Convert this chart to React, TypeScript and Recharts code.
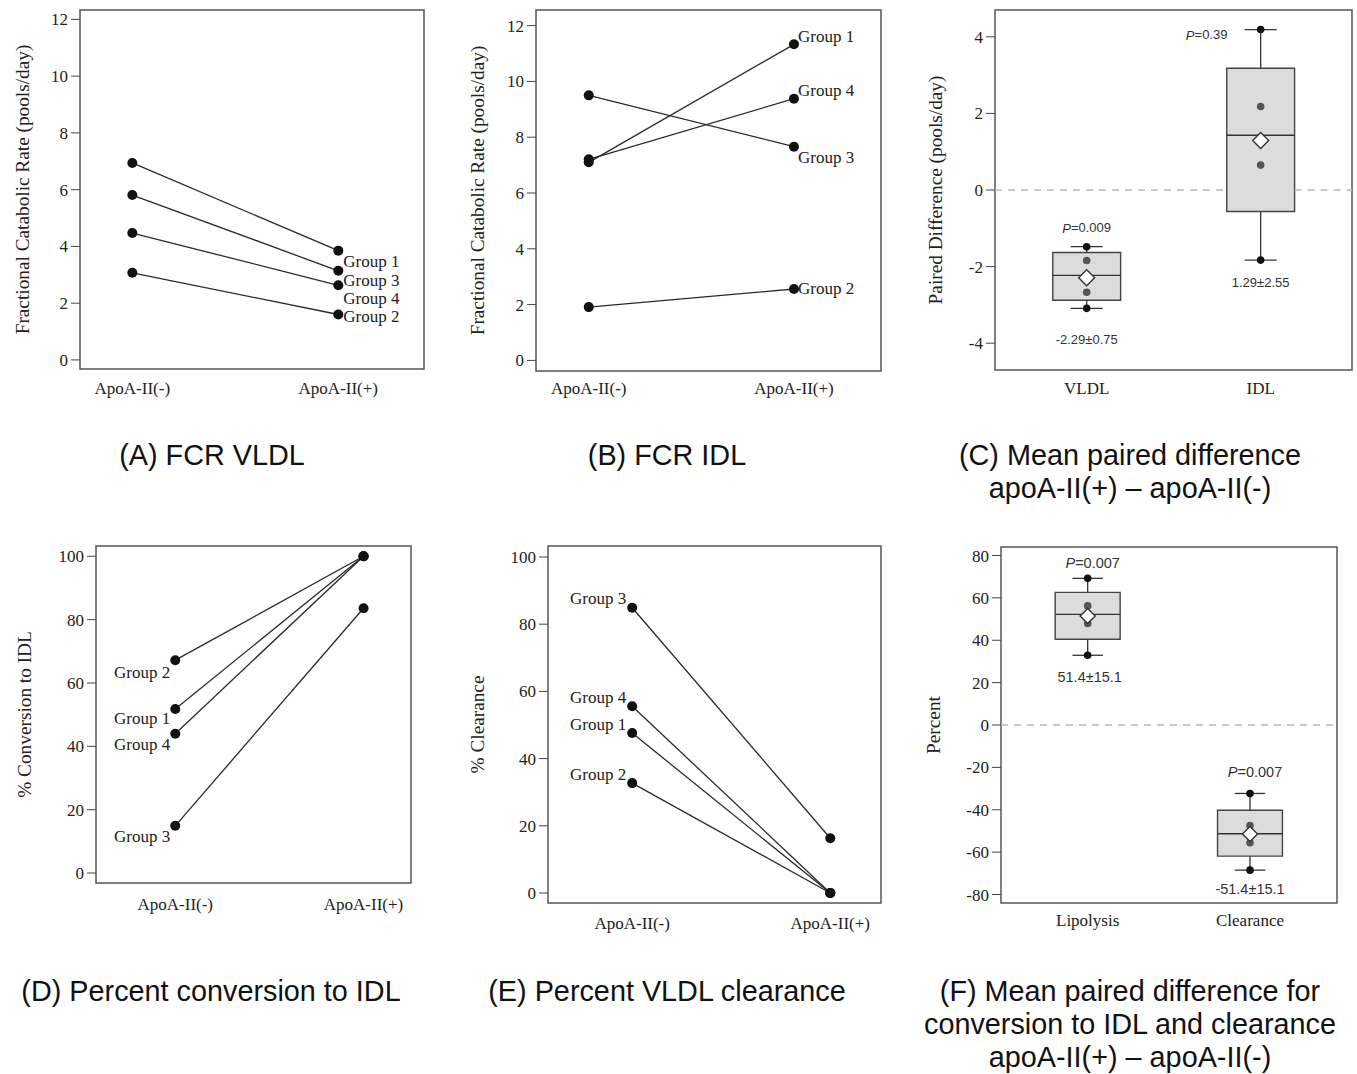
import React from 'react';
import { LineChart, Line, ComposedChart, Scatter, XAxis, YAxis, ReferenceArea, ReferenceLine } from 'recharts';

const SERIF = '"Liberation Serif", "Times New Roman", serif';
const SANS = '"Liberation Sans", Arial, sans-serif';
const INK = '#222';

const conditions = ['ApoA-II(-)', 'ApoA-II(+)'];
const groupNames = ['Group 1', 'Group 2', 'Group 3', 'Group 4'];

// FCR (pools/day), per group: apoA-II(-) then apoA-II(+)
const fcrVldlMinus = [6.94, 3.07, 5.81, 4.47];
const fcrVldlPlus = [3.85, 1.6, 3.14, 2.63];
const fcrIdlMinus = [7.1, 1.91, 9.5, 7.21];
const fcrIdlPlus = [11.33, 2.56, 7.66, 9.38];

// percent conversion / clearance
const conversionMinus = [51.8, 67.2, 14.9, 44.0];
const conversionPlus = [100, 100, 83.6, 100];
const clearanceMinus = [47.6, 32.7, 84.9, 55.6];
const clearancePlus = [0, 0, 16.3, 0];

const fcrTicks = [0, 2, 4, 6, 8, 10, 12];
const pctTicks = [0, 20, 40, 60, 80, 100];
const fcrDiffTicks = [-4, -2, 0, 2, 4];
const pctDiffTicks = [-80, -60, -40, -20, 0, 20, 40, 60, 80];

// paired differences (box plots)
const fcrDiffCategories = ['VLDL', 'IDL'];
const fcrDiffPoints = [[-1.48, -1.84, -2.67, -3.09], [4.19, 2.18, 0.65, -1.83]];
const fcrDiffQ1 = [-2.88, -0.56];
const fcrDiffMedian = [-2.23, 1.43];
const fcrDiffQ3 = [-1.63, 3.18];
const fcrDiffMean = [-2.29, 1.29];
const fcrDiffP = ['0.009', '0.39'];
const fcrDiffSummary = ['-2.29±0.75', '1.29±2.55'];

const pctDiffCategories = ['Lipolysis', 'Clearance'];
const pctDiffPoints = [[69.2, 56.2, 47.9, 32.9], [-32.3, -47.4, -55.6, -68.5]];
const pctDiffQ1 = [40.5, -61.9];
const pctDiffMedian = [52.2, -51.3];
const pctDiffQ3 = [62.6, -40.2];
const pctDiffMean = [51.4, -51.4];
const pctDiffP = ['0.007', '0.007'];
const pctDiffSummary = ['51.4±15.1', '-51.4±15.1'];

const AXIS_W = 80;
const AXIS_H = 50;
const PAD_L = 24;
const PAD_T = 10;
const PAD_R = 4;

type Frame = { left: number; top: number; right: number; bottom: number };

const chartBox = (f: Frame) => ({
  left: f.left - AXIS_W - PAD_L,
  top: f.top - PAD_T,
  width: f.right - f.left + AXIS_W + PAD_L + PAD_R,
  height: f.bottom - f.top + PAD_T + AXIS_H,
});

const chartMargin = { top: PAD_T, right: PAD_R, bottom: 0, left: PAD_L };

const yAxisProps = (yDomain: number[], yTicks: number[], title: string, titleOffset: number) => ({
  type: 'number' as const,
  domain: yDomain,
  ticks: yTicks,
  interval: 0 as const,
  allowDataOverflow: true,
  width: AXIS_W,
  axisLine: false,
  tickSize: 9,
  tickMargin: 3,
  tickLine: { stroke: '#444' },
  tick: { fill: INK, fontSize: 17, fontFamily: SERIF },
  label: {
    value: title,
    angle: -90,
    position: 'insideLeft' as const,
    offset: titleOffset,
    style: { textAnchor: 'middle', fill: INK, fontSize: 19.3, fontFamily: SERIF },
  },
});

const xAxisProps = (xDomain: number[], names: string[], margin: number) => ({
  type: 'number' as const,
  dataKey: 'x',
  domain: xDomain,
  ticks: [1, 2],
  interval: 0 as const,
  allowDataOverflow: true,
  height: AXIS_H,
  axisLine: false,
  tickLine: false,
  tickSize: 0,
  tickMargin: margin,
  tickFormatter: (v: number) => names[v - 1],
  tick: { fill: INK, fontSize: 17, fontFamily: SERIF },
});

type LabelLayout = { index: number; anchor: 'start' | 'end'; dx: number; dy: number[] };

const PairedPanel: React.FC<{
  frame: Frame;
  xDomain: number[];
  yDomain: number[];
  yTicks: number[];
  minus: number[];
  plus: number[];
  yTitle: string;
  titleX: number;
  xTickMargin: number;
  layout: LabelLayout;
}> = ({ frame, xDomain, yDomain, yTicks, minus, plus, yTitle, titleX, xTickMargin, layout }) => {
  const box = chartBox(frame);
  const rows = [minus, plus].map((vals, i) => {
    const row: Record<string, number> = { x: i + 1 };
    groupNames.forEach((g, k) => (row[g] = vals[k]));
    return row;
  });

  const dot = (k: number) => (p: any) => (
    <g key={`dot-${k}-${p.index}`}>
      <circle cx={p.cx} cy={p.cy} r={5} fill="#111" />
      {p.index === layout.index && (
        <text
          x={p.cx + layout.dx}
          y={p.cy + layout.dy[k]}
          textAnchor={layout.anchor}
          dominantBaseline="central"
          fontFamily={SERIF}
          fontSize={17}
          fill={INK}
        >
          {groupNames[k]}
        </text>
      )}
    </g>
  );

  return (
    <div style={{ position: 'absolute', left: box.left, top: box.top }}>
      <LineChart width={box.width} height={box.height} data={rows} margin={chartMargin}>
        <XAxis {...xAxisProps(xDomain, conditions, xTickMargin)} />
        <YAxis {...yAxisProps(yDomain, yTicks, yTitle, titleX - box.left - PAD_L)} />
        <ReferenceArea
          x1={xDomain[0]}
          x2={xDomain[1]}
          y1={yDomain[0]}
          y2={yDomain[1]}
          fill="none"
          stroke="#555"
          strokeWidth={1.5}
          ifOverflow="visible"
        />
        {groupNames.map((g, k) => (
          <Line
            key={g}
            dataKey={g}
            stroke="#2a2a2a"
            strokeWidth={1.3}
            dot={dot(k)}
            activeDot={false}
            isAnimationActive={false}
          />
        ))}
      </LineChart>
    </div>
  );
};

type NoteOffset = { dx: number; dy: number };

const BoxPanel: React.FC<{
  frame: Frame;
  xDomain: number[];
  yDomain: number[];
  yTicks: number[];
  categories: string[];
  points: number[][];
  q1: number[];
  median: number[];
  q3: number[];
  mean: number[];
  pValues: string[];
  summaries: string[];
  yTitle: string;
  titleX: number;
  xTickMargin: number;
  boxHalf: number;
  capHalf: number;
  diamond: number;
  noteSize: number;
  topNotes: NoteOffset[];
  bottomNotes: NoteOffset[];
}> = (props) => {
  const { frame, xDomain, yDomain, yTicks, categories, points, q1, median, q3, mean } = props;
  const box = chartBox(frame);

  const inner: { x: number; y: number }[] = [];
  const ends: { x: number; y: number; cat: number; end: 'top' | 'bottom' }[] = [];
  points.forEach((pts, i) => {
    const hi = Math.max(...pts);
    const lo = Math.min(...pts);
    pts.forEach((v) => {
      if (v === hi) ends.push({ x: i + 1, y: v, cat: i, end: 'top' });
      else if (v === lo) ends.push({ x: i + 1, y: v, cat: i, end: 'bottom' });
      else inner.push({ x: i + 1, y: v });
    });
  });
  const means = mean.map((m, i) => ({ x: i + 1, y: m }));

  // the dashed zero line stops where a box covers it
  const zeroPieces: number[][] = [];
  let from = xDomain[0];
  categories.forEach((_, i) => {
    if (q1[i] < 0 && q3[i] > 0) {
      zeroPieces.push([from, i + 1 - props.boxHalf]);
      from = i + 1 + props.boxHalf;
    }
  });
  zeroPieces.push([from, xDomain[1]]);

  const noteStyle = { fontFamily: SANS, fontSize: props.noteSize, fill: '#333' };

  const endShape = (p: any) => {
    const d = p.payload;
    const off = d.end === 'top' ? props.topNotes[d.cat] : props.bottomNotes[d.cat];
    return (
      <g>
        <circle cx={p.cx} cy={p.cy} r={3.8} fill="#111" />
        <text x={p.cx + off.dx} y={p.cy + off.dy} textAnchor="middle" dominantBaseline="central" {...noteStyle}>
          {d.end === 'top' ? (
            <>
              <tspan fontStyle="italic">P</tspan>={props.pValues[d.cat]}
            </>
          ) : (
            props.summaries[d.cat]
          )}
        </text>
      </g>
    );
  };

  const s = props.diamond;
  const diamondShape = (p: any) => (
    <polygon
      points={`${p.cx},${p.cy - s} ${p.cx + s},${p.cy} ${p.cx},${p.cy + s} ${p.cx - s},${p.cy}`}
      fill="#fff"
      stroke="#333"
      strokeWidth={1.4}
    />
  );

  const grayDot = (p: any) => <circle cx={p.cx} cy={p.cy} r={3.8} fill="#555" />;

  return (
    <div style={{ position: 'absolute', left: box.left, top: box.top }}>
      <ComposedChart width={box.width} height={box.height} margin={chartMargin}>
        <XAxis {...xAxisProps(xDomain, categories, props.xTickMargin)} />
        <YAxis dataKey="y" {...yAxisProps(yDomain, yTicks, props.yTitle, props.titleX - box.left - PAD_L)} />
        {zeroPieces.map(([a, b], j) => (
          <ReferenceLine
            key={`zero-${j}`}
            segment={[{ x: a, y: 0 }, { x: b, y: 0 }]}
            stroke="#b8b8b8"
            strokeWidth={1.5}
            strokeDasharray="7 6"
          />
        ))}
        {categories.map((c, i) => {
          const x = i + 1;
          const hi = Math.max(...points[i]);
          const lo = Math.min(...points[i]);
          return (
            <React.Fragment key={c}>
              <ReferenceLine segment={[{ x, y: q3[i] }, { x, y: hi }]} stroke="#333" strokeWidth={1.3} />
              <ReferenceLine segment={[{ x, y: lo }, { x, y: q1[i] }]} stroke="#333" strokeWidth={1.3} />
              <ReferenceLine segment={[{ x: x - props.capHalf, y: hi }, { x: x + props.capHalf, y: hi }]} stroke="#333" strokeWidth={1.3} />
              <ReferenceLine segment={[{ x: x - props.capHalf, y: lo }, { x: x + props.capHalf, y: lo }]} stroke="#333" strokeWidth={1.3} />
              <ReferenceArea
                x1={x - props.boxHalf}
                x2={x + props.boxHalf}
                y1={q1[i]}
                y2={q3[i]}
                fill="#dcdcdc"
                fillOpacity={1}
                stroke="#444"
                strokeWidth={1.4}
              />
              <ReferenceLine
                segment={[{ x: x - props.boxHalf, y: median[i] }, { x: x + props.boxHalf, y: median[i] }]}
                stroke="#333"
                strokeWidth={1.4}
              />
            </React.Fragment>
          );
        })}
        <Scatter data={inner} shape={grayDot} isAnimationActive={false} />
        <Scatter data={means} shape={diamondShape} isAnimationActive={false} />
        <Scatter data={ends} shape={endShape} isAnimationActive={false} />
        <ReferenceArea
          x1={xDomain[0]}
          x2={xDomain[1]}
          y1={yDomain[0]}
          y2={yDomain[1]}
          fill="none"
          stroke="#555"
          strokeWidth={1.5}
          ifOverflow="visible"
        />
      </ComposedChart>
    </div>
  );
};

const Caption: React.FC<{ cx: number; top: number; lines: string[] }> = ({ cx, top, lines }) => (
  <div
    style={{
      position: 'absolute',
      left: cx - 300,
      width: 600,
      top,
      textAlign: 'center',
      fontFamily: SANS,
      fontSize: 28.8,
      lineHeight: '33px',
      color: '#111',
    }}
  >
    {lines.map((l) => (
      <div key={l}>{l}</div>
    ))}
  </div>
);

const App: React.FC = () => {
  return (
    <div style={{ position: 'absolute', left: 0, top: 0, width: 1357, height: 1074, overflow: 'hidden', background: '#fff' }}>
      {/* (A) FCR VLDL */}
      <PairedPanel
        frame={{ left: 80, top: 10, right: 424, bottom: 369 }}
        xDomain={[0.746, 2.416]}
        yDomain={[-0.32, 12.33]}
        yTicks={fcrTicks}
        minus={fcrVldlMinus}
        plus={fcrVldlPlus}
        yTitle="Fractional Catabolic Rate (pools/day)"
        titleX={22}
        xTickMargin={13}
        layout={{ index: 1, anchor: 'start', dx: 5, dy: [11, 2, 10, 13.5] }}
      />
      {/* (B) FCR IDL */}
      <PairedPanel
        frame={{ left: 536, top: 10, right: 881, bottom: 371 }}
        xDomain={[0.743, 2.424]}
        yDomain={[-0.38, 12.56]}
        yTicks={fcrTicks}
        minus={fcrIdlMinus}
        plus={fcrIdlPlus}
        yTitle="Fractional Catabolic Rate (pools/day)"
        titleX={477}
        xTickMargin={11}
        layout={{ index: 1, anchor: 'start', dx: 4, dy: [-8, 0, 11, -8] }}
      />
      {/* (C) mean paired difference FCR */}
      <BoxPanel
        frame={{ left: 995, top: 10, right: 1352, bottom: 370 }}
        xDomain={[0.473, 2.525]}
        yDomain={[-4.7, 4.7]}
        yTicks={fcrDiffTicks}
        categories={fcrDiffCategories}
        points={fcrDiffPoints}
        q1={fcrDiffQ1}
        median={fcrDiffMedian}
        q3={fcrDiffQ3}
        mean={fcrDiffMean}
        pValues={fcrDiffP}
        summaries={fcrDiffSummary}
        yTitle="Paired Difference (pools/day)"
        titleX={935}
        xTickMargin={12}
        boxHalf={0.195}
        capHalf={0.092}
        diamond={8}
        noteSize={13}
        topNotes={[{ dx: 0, dy: -19 }, { dx: -54, dy: 5 }]}
        bottomNotes={[{ dx: 0, dy: 31 }, { dx: 0, dy: 22 }]}
      />
      {/* (D) percent conversion */}
      <PairedPanel
        frame={{ left: 96, top: 546, right: 411, bottom: 883 }}
        xDomain={[0.579, 2.252]}
        yDomain={[-3.15, 103.25]}
        yTicks={pctTicks}
        minus={conversionMinus}
        plus={conversionPlus}
        yTitle="% Conversion to IDL"
        titleX={24}
        xTickMargin={15}
        layout={{ index: 0, anchor: 'end', dx: -5, dy: [10, 12, 11, 11] }}
      />
      {/* (E) percent clearance */}
      <PairedPanel
        frame={{ left: 548, top: 546, right: 881, bottom: 903 }}
        xDomain={[0.575, 2.256]}
        yDomain={[-2.98, 103.27]}
        yTicks={pctTicks}
        minus={clearanceMinus}
        plus={clearancePlus}
        yTitle="% Clearance"
        titleX={477}
        xTickMargin={14}
        layout={{ index: 0, anchor: 'end', dx: -6, dy: [-9, -9, -9, -9] }}
      />
      {/* (F) mean paired difference percent */}
      <BoxPanel
        frame={{ left: 1001, top: 547, right: 1337, bottom: 903 }}
        xDomain={[0.466, 2.536]}
        yDomain={[-84, 84]}
        yTicks={pctDiffTicks}
        categories={pctDiffCategories}
        points={pctDiffPoints}
        q1={pctDiffQ1}
        median={pctDiffMedian}
        q3={pctDiffQ3}
        mean={pctDiffMean}
        pValues={pctDiffP}
        summaries={pctDiffSummary}
        yTitle="Percent"
        titleX={933}
        xTickMargin={11}
        boxHalf={0.2}
        capHalf={0.094}
        diamond={7.5}
        noteSize={14.5}
        topNotes={[{ dx: 5, dy: -15 }, { dx: 5, dy: -21 }]}
        bottomNotes={[{ dx: 2, dy: 22 }, { dx: 0, dy: 19 }]}
      />

      <Caption cx={212} top={438.5} lines={['(A) FCR VLDL']} />
      <Caption cx={667} top={438.5} lines={['(B) FCR IDL']} />
      <Caption cx={1130} top={438.5} lines={['(C) Mean paired difference', 'apoA-II(+) – apoA-II(-)']} />
      <Caption cx={211} top={975} lines={['(D) Percent conversion to IDL']} />
      <Caption cx={667} top={975} lines={['(E) Percent VLDL clearance']} />
      <Caption
        cx={1130}
        top={975}
        lines={['(F) Mean paired difference for', 'conversion to IDL and clearance', 'apoA-II(+) – apoA-II(-)']}
      />
    </div>
  );
};

export default App;
